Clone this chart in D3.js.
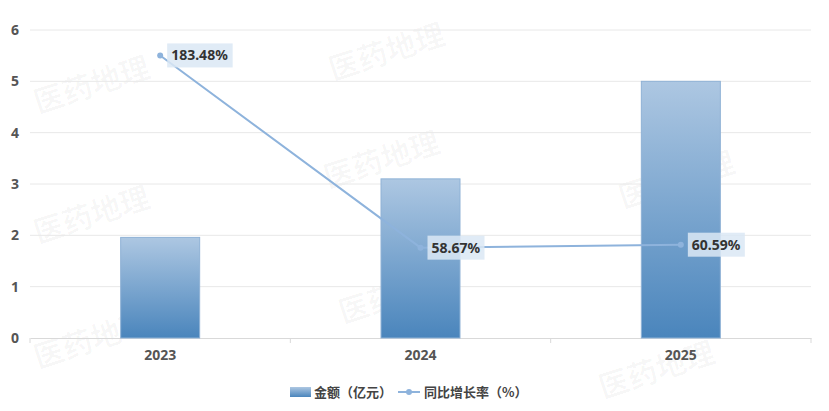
<!DOCTYPE html>
<html><head><meta charset="utf-8">
<script src="https://cdn.jsdelivr.net/npm/d3@7"></script>
<style>body{margin:0;background:#fff;}svg{display:block;font-family:"Noto Sans CJK SC","Noto Sans",sans-serif;}</style>
</head><body><svg id="c" width="829" height="411"></svg>
<script>
const categories = ["2023","2024","2025"];
const amounts = [1.96, 3.10, 5.00];
const growth = [183.48, 58.67, 60.59];
const yTicks = [0,1,2,3,4,5,6];
const seriesNames = ["金额（亿元）","同比增长率（%）"];

const svg = d3.select("#c");
const m = {l:30, r:18, t:30, b:73};
const W = 829, H = 411;
const x = d3.scaleBand().domain(categories).range([m.l, W-m.r]).paddingInner(0).paddingOuter(0);
const y = d3.scaleLinear().domain([0,6]).range([H-m.b, m.t]);
const y2 = d3.scaleLinear().domain([0,200]).range([H-m.b, m.t]);

const defs = svg.append("defs");
const g = defs.append("linearGradient").attr("id","bg").attr("x1",0).attr("y1",0).attr("x2",0).attr("y2",1);
g.append("stop").attr("offset","0%").attr("stop-color","#adc7e2");
g.append("stop").attr("offset","100%").attr("stop-color","#4a85bc");

// watermarks
const wm = [[95,95],[390,62],[385,170],[95,225],[400,305],[660,380],[680,190],[95,350]];
svg.append("g").selectAll("text").data(wm).join("text")
  .attr("transform",d=>`translate(${d[0]},${d[1]}) rotate(-18)`)
  .attr("font-size",30).attr("font-weight","bold").attr("fill","#000").attr("fill-opacity",0.03)
  .attr("text-anchor","middle").text("医药地理");

// grid
svg.append("g").selectAll("line").data(yTicks.filter(d=>d>0)).join("line")
  .attr("x1",m.l).attr("x2",W-m.r).attr("y1",d=>y(d)).attr("y2",d=>y(d))
  .attr("stroke","#e8e8e8").attr("stroke-width",1);

// y labels
svg.append("g").selectAll("text").data(yTicks).join("text")
  .attr("x",19).attr("y",d=>y(d)).attr("dy","0.35em").attr("text-anchor","end")
  .attr("font-size",14).attr("font-weight","bold").attr("fill","#555")
  .attr("font-family",'"Noto Sans",sans-serif').text(d=>d);

// x axis
const xa = svg.append("g").attr("transform",`translate(0,${y(0)})`)
  .call(d3.axisBottom(x).tickSize(0).tickPadding(12));
xa.select(".domain").attr("stroke","#d9d9d9");
xa.selectAll("text").attr("font-size",14).attr("font-weight","bold").attr("fill","#555")
  .attr("font-family",'"Noto Sans","Noto Sans CJK SC",sans-serif');
const bounds = categories.map(c=>x(c)).concat([x(categories[categories.length-1])+x.bandwidth()]);
xa.selectAll(".bt").data(bounds).join("line").attr("class","bt")
  .attr("x1",d=>d).attr("x2",d=>d).attr("y1",0).attr("y2",5).attr("stroke","#d9d9d9");

// bars
const bw = 79;
svg.append("g").selectAll("rect").data(amounts).join("rect")
  .attr("x",(d,i)=>x(categories[i])+x.bandwidth()/2-bw/2)
  .attr("width",bw).attr("y",d=>y(d)).attr("height",d=>y(0)-y(d))
  .attr("fill","url(#bg)").attr("stroke","#8fb2d6").attr("stroke-width",1);

// line
const lx = (d,i)=>x(categories[i])+x.bandwidth()/2;
svg.append("path").datum(growth)
  .attr("d",d3.line().x(lx).y(d=>y2(d)))
  .attr("fill","none").attr("stroke","#8eb3dc").attr("stroke-width",2);
svg.append("g").selectAll("circle").data(growth).join("circle")
  .attr("cx",lx).attr("cy",d=>y2(d)).attr("r",3).attr("fill","#8eb3dc");

// labels
const lg = svg.append("g").selectAll("g").data(growth).join("g")
  .attr("transform",(d,i)=>`translate(${lx(d,i)+7},${y2(d)})`);
lg.append("rect").attr("x",0).attr("y",-12).attr("height",24).attr("width",d=>(d.toFixed(2)+"%").length*8.5+6)
  .attr("fill","#dbe7f4").attr("fill-opacity",0.85);
lg.append("text").attr("x",4).attr("dy","0.36em").attr("font-size",14).attr("font-weight","bold")
  .attr("font-family",'"Noto Sans",sans-serif').attr("fill","#333").text(d=>d.toFixed(2)+"%");

// legend
const leg = svg.append("g").attr("transform","translate(290,392)");
leg.append("rect").attr("x",0).attr("y",-5).attr("width",21).attr("height",10).attr("fill","url(#bg)");
leg.append("text").attr("x",24).attr("dy","0.35em").attr("font-size",13).attr("font-weight","bold").attr("fill","#444").text(seriesNames[0]);
leg.append("line").attr("x1",108).attr("x2",130).attr("y1",0).attr("y2",0).attr("stroke","#8eb3dc").attr("stroke-width",2);
leg.append("circle").attr("cx",119).attr("cy",0).attr("r",3).attr("fill","#8eb3dc");
leg.append("text").attr("x",134).attr("dy","0.35em").attr("font-size",13).attr("font-weight","bold").attr("fill","#444").text(seriesNames[1]);
</script></body></html>
